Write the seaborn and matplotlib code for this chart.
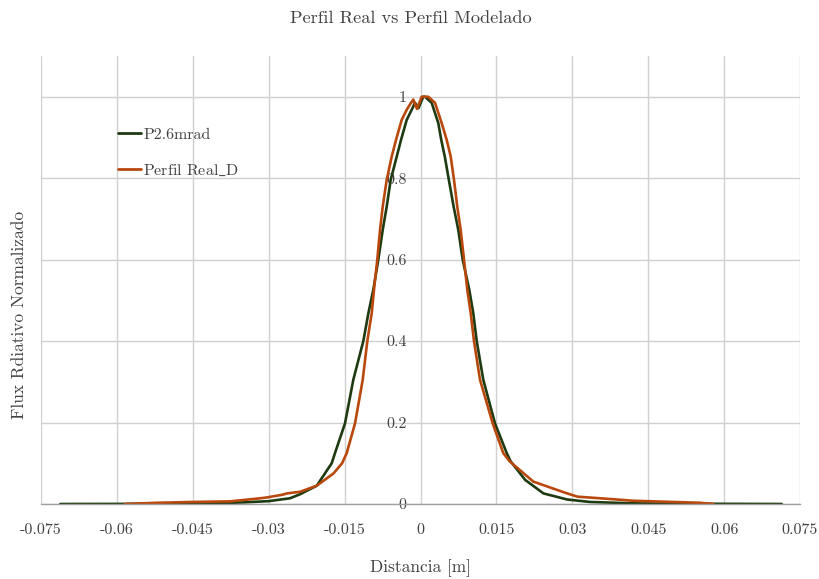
import matplotlib
matplotlib.use("Agg")
import matplotlib.pyplot as plt
import seaborn as sns
import pandas as pd
from matplotlib.transforms import blended_transform_factory, ScaledTranslation

# ---- data ----
green_x = [-0.0712, -0.05, -0.04, -0.035, -0.030, -0.0258, -0.0238, -0.0205, -0.01755, -0.0169,
           -0.01492, -0.01328, -0.0113, -0.0103, -0.00933, -0.0090, -0.00834, -0.00747, -0.00668, -0.00589,
           -0.0047, -0.00385, -0.00273, -0.00174, -0.00109, -0.0004, 0.00055, 0.00089, 0.00221, 0.00352,
           0.0041, 0.0048, 0.0056, 0.00655, 0.00747, 0.00834, 0.00964, 0.01043, 0.01111, 0.01241,
           0.01472, 0.01704, 0.0178, 0.0207, 0.0243, 0.029, 0.0335, 0.042, 0.050, 0.0714]
green_y = [0.0, 0.0005, 0.002, 0.004, 0.007, 0.014, 0.024, 0.045, 0.10, 0.125,
           0.198, 0.305, 0.40, 0.4685, 0.526, 0.55, 0.60, 0.673, 0.73, 0.796,
           0.853, 0.894, 0.943, 0.968, 0.985, 0.972, 1.0, 1.0, 0.985, 0.935,
           0.894, 0.853, 0.796, 0.73, 0.673, 0.60, 0.526, 0.4685, 0.40, 0.305,
           0.198, 0.125, 0.105, 0.059, 0.026, 0.011, 0.005, 0.0016, 0.0008, 0.0]

orange_x = [-0.0584, -0.0521, -0.045, -0.0376, -0.0317, -0.0304, -0.0272, -0.0264, -0.0238, -0.0205,
            -0.0172, -0.0155, -0.01458, -0.01294, -0.01142, -0.01051, -0.00964, -0.00919, -0.00899, -0.00854,
            -0.0080, -0.00747, -0.00668, -0.00569, -0.00484, -0.00372, -0.00273, -0.00188, -0.00142, -0.0007,
            0.00024, 0.00154, 0.00287, 0.00419, 0.00518, 0.00597, 0.00662, 0.00727, 0.00794, 0.0086,
            0.00925, 0.00992, 0.01057, 0.01176, 0.01427, 0.01636, 0.0176, 0.0223, 0.0285, 0.031,
            0.0378, 0.042, 0.0552, 0.0579]
orange_y = [0.0, 0.003, 0.005, 0.0065, 0.014, 0.016, 0.023, 0.026, 0.030, 0.045,
            0.075, 0.10, 0.125, 0.198, 0.305, 0.40, 0.4685, 0.526, 0.55, 0.60,
            0.673, 0.73, 0.796, 0.853, 0.894, 0.943, 0.968, 0.985, 0.993, 0.97,
            1.0, 1.0, 0.985, 0.935, 0.894, 0.853, 0.796, 0.73, 0.673, 0.60,
            0.526, 0.4685, 0.40, 0.305, 0.198, 0.125, 0.105, 0.055, 0.028, 0.018,
            0.012, 0.008, 0.003, 0.0]

series_names = ["P2.6mrad", "Perfil Real_D"]
series_colors = ["#1d3a10", "#b8480c"]

xticks = [-0.075, -0.06, -0.045, -0.03, -0.015, 0, 0.015, 0.03, 0.045, 0.06, 0.075]
xtick_labels = ["-0.075", "-0.06", "-0.045", "-0.03", "-0.015", "0", "0.015", "0.03", "0.045", "0.06", "0.075"]
yticks = [0, 0.2, 0.4, 0.6, 0.8, 1.0]
ytick_labels = ["0", "0.2", "0.4", "0.6", "0.8", "1"]

df = pd.concat([
    pd.DataFrame({"x": green_x, "y": green_y, "serie": series_names[0]}),
    pd.DataFrame({"x": orange_x, "y": orange_y, "serie": series_names[1]}),
], ignore_index=True)

sns.set_theme(style="white")
plt.rcParams["font.family"] = ["cmr10", "DejaVu Serif"]
plt.rcParams["axes.unicode_minus"] = False
plt.rcParams["axes.formatter.use_mathtext"] = True
plt.rcParams["mathtext.fontset"] = "cm"

fig = plt.figure(figsize=(8.2, 5.79), dpi=100)
ax = fig.add_axes([41 / 820, 1 - 504 / 579, 759 / 820, 448 / 579])

sns.lineplot(data=df, x="x", y="y", hue="serie", palette=dict(zip(series_names, series_colors)),
             estimator=None, sort=True, linewidth=1.9, ax=ax)

ax.set_xlim(-0.075, 0.075)
ax.set_ylim(0, 1.10)
ax.set_xticks(xticks)
ax.set_xticklabels(xtick_labels)
ax.set_yticks(yticks)
ax.set_yticklabels(ytick_labels)

ax.grid(True, color="#d0d0d0", linewidth=1.0)
ax.set_axisbelow(True)
for s in ["top", "right", "left"]:
    ax.spines[s].set_visible(False)
ax.spines["bottom"].set_color("#a0a0a0")
ax.spines["bottom"].set_linewidth(1.0)

ax.tick_params(axis="x", length=0, pad=14, labelsize=11.5, colors="#404040")
ax.tick_params(axis="y", length=0, labelsize=11.5, colors="#404040")
for lbl in ax.get_yticklabels():
    lbl.set_horizontalalignment("right")
    lbl.set_transform(blended_transform_factory(ax.transData, ax.transData) +
                      ScaledTranslation(-10 / 72, 0, fig.dpi_scale_trans))
    lbl.set_x(0)

ax.set_xlabel("Distancia [m]", fontsize=12.5, color="#404040")
ax.xaxis.set_label_coords(0.5, (504 - 559) / 448)
ax.set_ylabel("Flux Rdiativo Normalizado", fontsize=12.5, color="#404040")
ax.yaxis.set_label_coords((27 - 41) / 759, (504 - 315) / 448)

fig.suptitle("Perfil Real vs Perfil Modelado", x=411 / 820, y=1 - 18 / 579, va="center",
             fontsize=13.2, color="#404040")

leg = ax.legend(loc="upper left", bbox_to_anchor=((112 - 41) / 759, (504 - 121) / 448),
                frameon=False, fontsize=11.5, handlelength=1.4, handletextpad=0.15,
                labelspacing=1.3, borderaxespad=0)
texts = leg.get_texts()
for t in texts:
    t.set_color("#404040")
texts[1].set_text(r"Perfil Real$\_$D")
for h in leg.get_lines():
    h.set_linewidth(2.0)

fig.savefig("out.png", dpi=100)
